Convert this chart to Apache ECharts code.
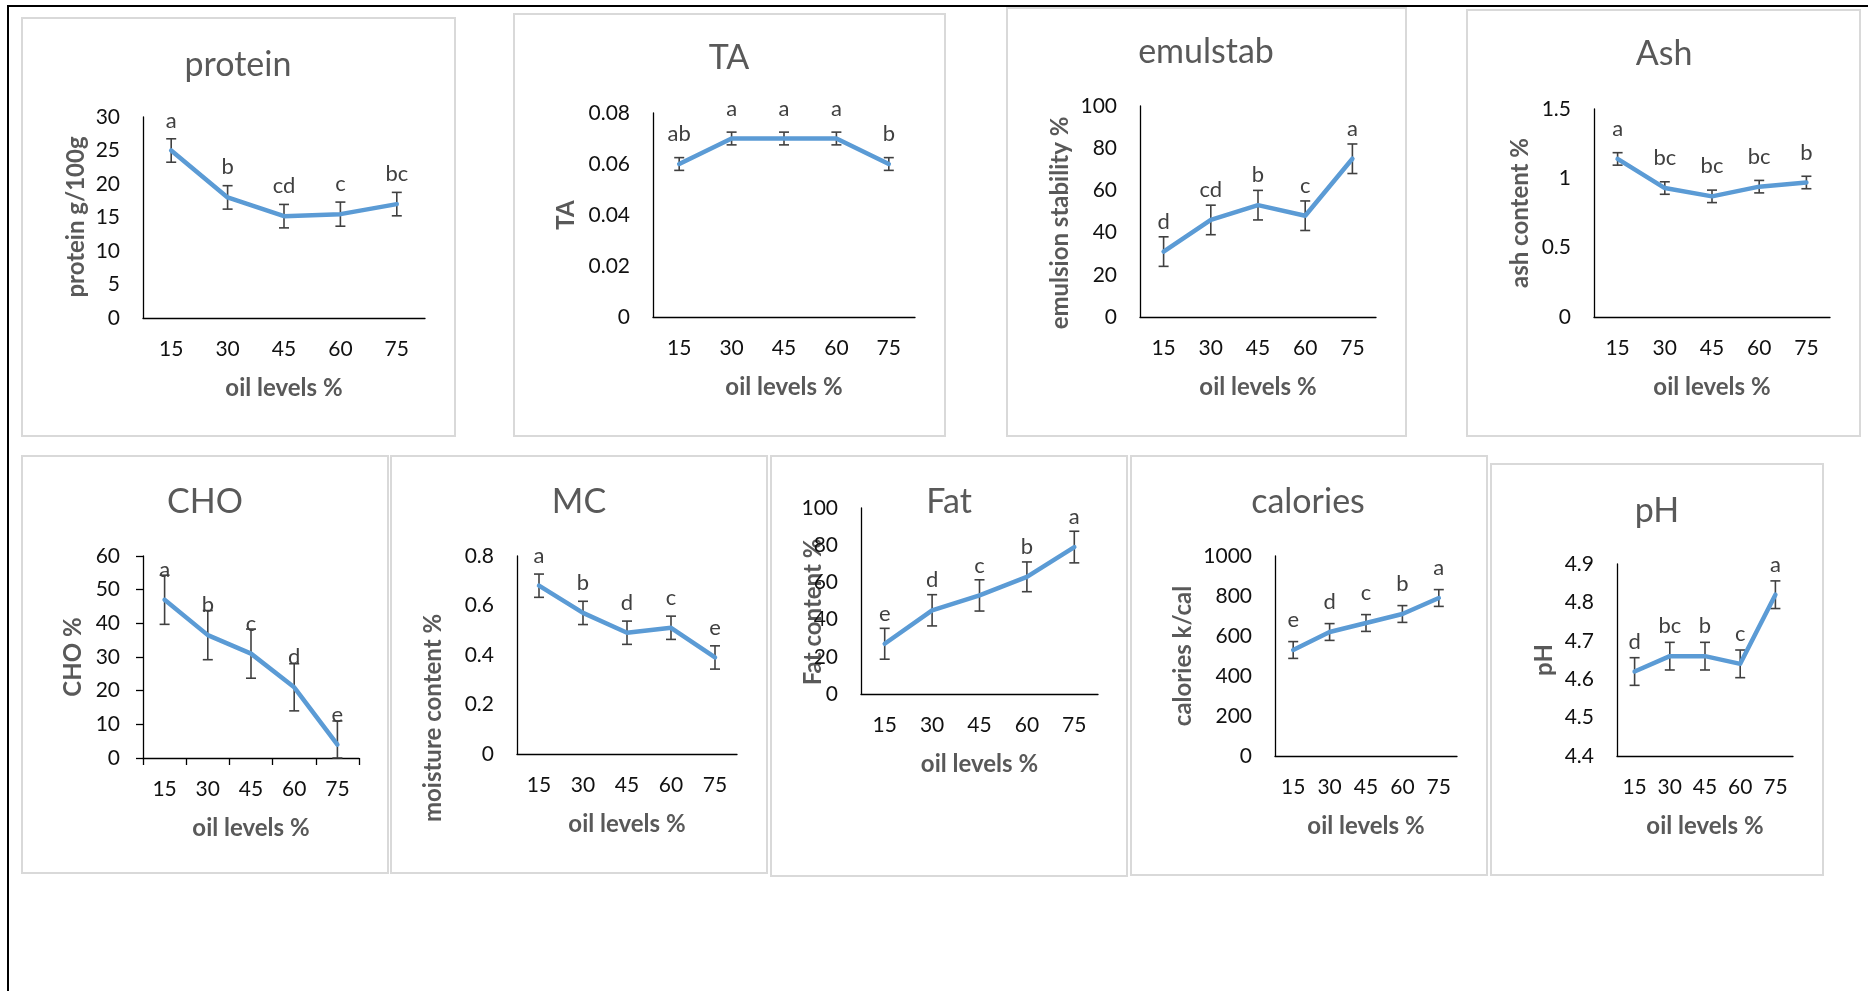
<!DOCTYPE html>
<html><head><meta charset="utf-8">
<script src="https://cdn.jsdelivr.net/npm/echarts@6/dist/echarts.min.js"></script>
<style>html,body{margin:0;padding:0;background:#fff;overflow:hidden}#c{width:1872px;height:991px}</style>
</head><body><div id="c"></div>
<script>
// ---------- data ----------
const categories = ['15', '30', '45', '60', '75'];
const xAxisName = 'oil levels %';

const proteinValues = [25, 18, 15.2, 15.5, 17];
const proteinErrors = [1.75, 1.75, 1.75, 1.8, 1.75];
const proteinLetters = ['a', 'b', 'cd', 'c', 'bc'];
const proteinAxis = [0, 30, 5];

const taValues = [0.06, 0.07, 0.07, 0.07, 0.06];
const taErrors = [0.0025, 0.0025, 0.0025, 0.0025, 0.0025];
const taLetters = ['ab', 'a', 'a', 'a', 'b'];
const taAxis = [0, 0.08, 0.02];

const emulValues = [31, 46, 53, 48, 75];
const emulErrors = [7, 7, 7, 7, 7];
const emulLetters = ['d', 'cd', 'b', 'c', 'a'];
const emulAxis = [0, 100, 20];

const ashValues = [1.14, 0.93, 0.87, 0.94, 0.97];
const ashErrors = [0.045, 0.045, 0.045, 0.045, 0.045];
const ashLetters = ['a', 'bc', 'bc', 'bc', 'b'];
const ashAxis = [0, 1.5, 0.5];

const choValues = [47, 36.5, 31, 21, 4];
const choErrors = [7.3, 7.3, 7.3, 7, 7];
const choLetters = ['a', 'b', 'c', 'd', 'e'];
const choAxis = [0, 60, 10];

const mcValues = [0.68, 0.57, 0.49, 0.51, 0.39];
const mcErrors = [0.047, 0.047, 0.047, 0.047, 0.047];
const mcLetters = ['a', 'b', 'd', 'c', 'e'];
const mcAxis = [0, 0.8, 0.2];

const fatValues = [27, 45, 53, 63, 79];
const fatErrors = [8.3, 8.4, 8.4, 8, 8.5];
const fatLetters = ['e', 'd', 'c', 'b', 'a'];
const fatAxis = [0, 100, 20];

const calValues = [530, 620, 665, 710, 790];
const calErrors = [42, 42, 42, 42, 42];
const calLetters = ['e', 'd', 'c', 'b', 'a'];
const calAxis = [0, 1000, 200];

const phValues = [4.62, 4.66, 4.66, 4.64, 4.82];
const phErrors = [0.036, 0.036, 0.036, 0.036, 0.036];
const phLetters = ['d', 'bc', 'b', 'c', 'a'];
const phAxis = [4.4, 4.9, 0.1];

// ---------- layout ----------
const panels = [
  {title: 'protein', yName: 'protein g/100g', values: proteinValues, errors: proteinErrors, letters: proteinLetters, axis: proteinAxis,
   box: [22, 18, 455, 436], grid: [143, 117, 282, 201], titlePos: [238, 65], yNamePos: [76, 217], ticks: false},
  {title: 'TA', yName: 'TA', values: taValues, errors: taErrors, letters: taLetters, axis: taAxis,
   box: [514, 14, 945, 436], grid: [653, 113, 262, 204], titlePos: [729, 58], yNamePos: [566, 215], ticks: false},
  {title: 'emulstab', yName: 'emulsion stability %', values: emulValues, errors: emulErrors, letters: emulLetters, axis: emulAxis,
   box: [1007, 8, 1406, 436], grid: [1140, 106, 236, 211], titlePos: [1206, 52], yNamePos: [1060, 223], ticks: false},
  {title: 'Ash', yName: 'ash content %', values: ashValues, errors: ashErrors, letters: ashLetters, axis: ashAxis,
   box: [1467, 10, 1860, 436], grid: [1594, 109, 236, 208], titlePos: [1664, 54], yNamePos: [1520, 213], ticks: false},
  {title: 'CHO', yName: 'CHO %', values: choValues, errors: choErrors, letters: choLetters, axis: choAxis,
   box: [22, 456, 388, 873], grid: [143, 556, 216, 202], titlePos: [205, 502], yNamePos: [73, 657], ticks: true},
  {title: 'MC', yName: 'moisture content %', values: mcValues, errors: mcErrors, letters: mcLetters, axis: mcAxis,
   box: [391, 456, 767, 873], grid: [517, 556, 220, 198], titlePos: [579, 502], yNamePos: [433, 718], ticks: false},
  {title: 'Fat', yName: 'Fat content %', values: fatValues, errors: fatErrors, letters: fatLetters, axis: fatAxis,
   box: [771, 456, 1127, 876], grid: [861, 508, 237, 186], titlePos: [949, 502], yNamePos: [813, 612], ticks: false},
  {title: 'calories', yName: 'calories k/cal', values: calValues, errors: calErrors, letters: calLetters, axis: calAxis,
   box: [1131, 456, 1487, 875], grid: [1275, 556, 182, 200], titlePos: [1308, 502], yNamePos: [1183, 656], ticks: false},
  {title: 'pH', yName: 'pH', values: phValues, errors: phErrors, letters: phLetters, axis: phAxis,
   box: [1491, 464, 1823, 875], grid: [1617, 564, 176, 192], titlePos: [1657, 511], yNamePos: [1544, 660], ticks: false}
];

const FONT = 'Lato';
const LINE_COLOR = '#5B9BD5';
const ERR_COLOR = '#404040';

const grids = [], xAxes = [], yAxes = [], series = [], graphics = [];

graphics.push({type: 'line', shape: {x1: 7, y1: 6, x2: 1868, y2: 6}, style: {stroke: '#000', lineWidth: 2}});
graphics.push({type: 'line', shape: {x1: 8, y1: 5, x2: 8, y2: 991}, style: {stroke: '#000', lineWidth: 2}});

panels.forEach((p, i) => {
  const [amin, amax, aint] = p.axis;
  graphics.push({type: 'rect', shape: {x: p.box[0], y: p.box[1], width: p.box[2] - p.box[0], height: p.box[3] - p.box[1]},
    style: {fill: 'none', stroke: '#d9d9d9', lineWidth: 2}});
  graphics.push({type: 'text', x: p.titlePos[0], y: p.titlePos[1],
    style: {text: p.title, align: 'center', verticalAlign: 'middle', font: '34px ' + FONT, fill: '#595959'}});
  graphics.push({type: 'text', x: p.yNamePos[0], y: p.yNamePos[1], rotation: Math.PI / 2,
    style: {text: p.yName, align: 'center', verticalAlign: 'middle', font: 'bold 24px ' + FONT, fill: '#595959'}});

  grids.push({left: p.grid[0], top: p.grid[1], width: p.grid[2], height: p.grid[3]});
  xAxes.push({
    type: 'category', gridIndex: i, data: categories, boundaryGap: true,
    axisLine: {show: true, lineStyle: {color: '#000', width: 1.3}},
    axisTick: {show: p.ticks, length: 7, alignWithLabel: false, lineStyle: {color: '#000', width: 1.3}},
    axisLabel: {show: true, interval: 0, margin: 21, fontSize: 21, fontFamily: FONT, color: '#111'},
    splitLine: {show: false},
    name: xAxisName, nameLocation: 'middle', nameGap: 58,
    nameTextStyle: {fontSize: 24, fontWeight: 'bold', fontFamily: FONT, color: '#595959'}
  });
  yAxes.push({
    type: 'value', gridIndex: i, min: amin, max: amax, interval: aint,
    axisLine: {show: true, lineStyle: {color: '#000', width: 1.3}},
    axisTick: {show: p.ticks, length: 7, lineStyle: {color: '#000', width: 1.3}},
    axisLabel: {show: true, margin: 23, fontSize: 21, fontFamily: FONT, color: '#111',
      formatter: v => String(Math.round(v * 1000) / 1000)},
    splitLine: {show: false}
  });

  const errData = p.values.map((v, k) => [k, v, p.errors[k]]);
  series.push({
    type: 'custom', xAxisIndex: i, yAxisIndex: i, z: 2, silent: true, clip: false,
    data: errData,
    renderItem: (params, api) => {
      const k = api.value(0), v = api.value(1), e = api.value(2);
      const top = api.coord([k, Math.min(amax, v + e)]);
      const bot = api.coord([k, Math.max(amin, v - e)]);
      const x = top[0], w = 5;
      const st = {stroke: ERR_COLOR, lineWidth: 1.6};
      return {type: 'group', children: [
        {type: 'line', shape: {x1: x, y1: top[1], x2: x, y2: bot[1]}, style: st},
        {type: 'line', shape: {x1: x - w, y1: top[1], x2: x + w, y2: top[1]}, style: st},
        {type: 'line', shape: {x1: x - w, y1: bot[1], x2: x + w, y2: bot[1]}, style: st}
      ]};
    }
  });
  series.push({
    type: 'line', xAxisIndex: i, yAxisIndex: i, z: 3, data: p.values,
    showSymbol: false, symbol: 'none', smooth: false,
    lineStyle: {color: LINE_COLOR, width: 4.5, cap: 'round', join: 'round'}
  });
  series.push({
    type: 'custom', xAxisIndex: i, yAxisIndex: i, z: 4, silent: true, clip: false,
    data: p.values.map((v, k) => [k, v]),
    renderItem: (params, api) => {
      const c = api.coord([api.value(0), api.value(1)]);
      return {type: 'text', x: c[0], y: c[1] - 30,
        style: {text: p.letters[params.dataIndex], align: 'center', verticalAlign: 'middle', font: '22px ' + FONT, fill: ERR_COLOR}};
    }
  });
});

const chart = echarts.init(document.getElementById('c'), null, {renderer: 'canvas'});
chart.setOption({
  animation: false,
  backgroundColor: '#fff',
  grid: grids, xAxis: xAxes, yAxis: yAxes, series: series,
  graphic: {elements: graphics}
});
</script></body></html>
